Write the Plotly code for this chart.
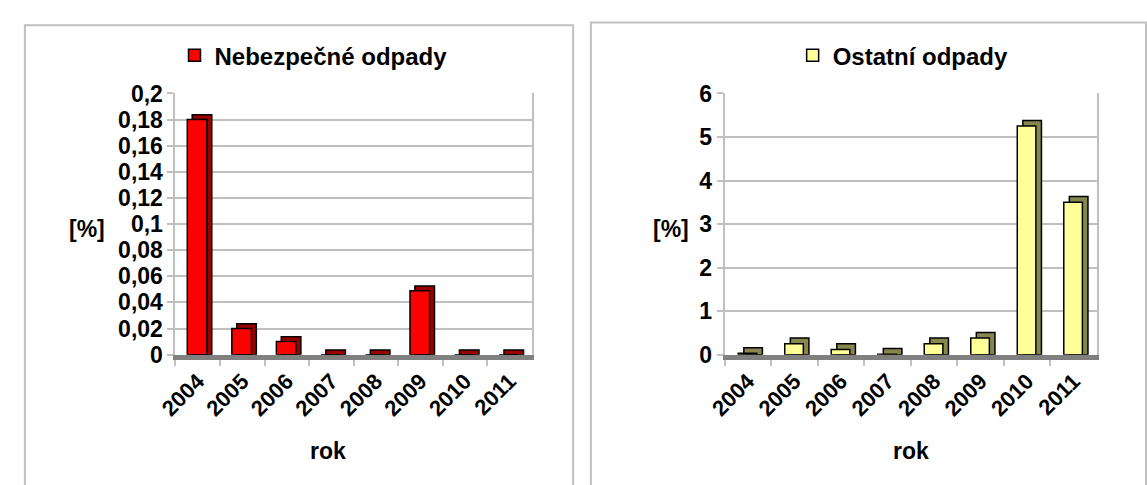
import plotly.graph_objects as go

# ---- data ----
years = ["2004", "2005", "2006", "2007", "2008", "2009", "2010", "2011"]
nebezpecne = [0.18, 0.02, 0.01, 0.0, 0.0, 0.049, 0.0, 0.0]
ostatni = [0.03, 0.25, 0.12, 0.01, 0.25, 0.38, 5.25, 3.5]
series_names = ["Nebezpečné odpady", "Ostatní odpady"]
y_title = "[%]"
x_title = "rok"

W, H = 1147, 485
FONT = "Liberation Sans, Arial, sans-serif"
GRID = "#c0c0c0"
FS = 23


def fx(p):
    return p / W


def fy(p):
    return (H - p) / H


PLOT_TOP, PLOT_BOTTOM = 85, 361

panels = [
    dict(values=nebezpecne, name=series_names[0], ymax=0.2, dtick=0.02,
         front="#FF0000", side="#990000", x0=160, x1=522, depth=5,
         offset=-0.235, width=0.44, shift=0.11,
         ax="", legend="legend", leg_x=159, ytitle_x=70, xtitle_x=315),
    dict(values=ostatni, name=series_names[1], ymax=6, dtick=1,
         front="#FFFF99", side="#86864F", x0=718, x1=1096, depth=6,
         offset=-0.21, width=0.40, shift=0.12,
         ax="2", legend="legend2", leg_x=787, ytitle_x=663, xtitle_x=907),
]

fig = go.Figure()
layout = dict(
    width=W, height=H,
    margin=dict(l=0, r=0, t=0, b=0),
    paper_bgcolor="white", plot_bgcolor="white",
    separators=",.",
    barmode="overlay",
    font=dict(family=FONT, size=FS, color="black", weight="bold"),
    shapes=[], annotations=[],
)

for p in panels:
    xa = "x" + p["ax"]
    ya = "y" + p["ax"]
    dunit = p["depth"] * p["ymax"] / (PLOT_BOTTOM - PLOT_TOP)
    # depth (side + top faces) drawn behind the front face
    fig.add_trace(go.Bar(
        x=years, y=[v + dunit for v in p["values"]], base=0,
        offset=p["offset"] + p["shift"], width=p["width"],
        marker=dict(color=p["side"], line=dict(color="black", width=1.5)),
        xaxis=xa, yaxis=ya, showlegend=False, hoverinfo="skip",
    ))
    fig.add_trace(go.Bar(
        x=years, y=p["values"], base=0,
        offset=p["offset"], width=p["width"], name=p["name"],
        marker=dict(color=p["front"], line=dict(color="black", width=1.5)),
        xaxis=xa, yaxis=ya, legend=p["legend"],
    ))
    xkey = "xaxis" + p["ax"]
    ykey = "yaxis" + p["ax"]
    layout[xkey] = dict(
        domain=[fx(p["x0"]), fx(p["x1"])], anchor=ya, type="category",
        showline=True, linecolor="#808080", linewidth=5,
        ticks="outside", tickson="boundaries", ticklen=6, tickcolor=GRID,
        tickwidth=2, tickangle=-45, showgrid=False, layer="below traces",
        tickfont=dict(family=FONT, size=FS - 1, weight="bold"), fixedrange=True,
    )
    layout[ykey] = dict(
        domain=[fy(PLOT_BOTTOM), fy(PLOT_TOP)], anchor=xa,
        range=[0, p["ymax"]], dtick=p["dtick"], tick0=0,
        showline=True, linecolor=GRID, linewidth=2, mirror=True,
        showgrid=True, gridcolor=GRID, gridwidth=2, zeroline=False,
        ticks="outside", ticklen=6, tickcolor=GRID, tickwidth=2,
        layer="below traces",
        tickfont=dict(family=FONT, size=FS, weight="bold"), fixedrange=True,
    )
    layout[p["legend"]] = dict(
        x=fx(p["leg_x"]), y=fy(45), xanchor="left", yanchor="middle",
        bgcolor="rgba(0,0,0,0)", itemwidth=30,
        font=dict(family=FONT, size=FS + 1, weight="bold"),
    )
    layout["annotations"].append(dict(
        text=y_title, x=fx(p["ytitle_x"]), y=fy(228), xref="paper",
        yref="paper", showarrow=False, xanchor="center", yanchor="middle",
        font=dict(family=FONT, size=FS, weight="bold")))
    layout["annotations"].append(dict(
        text=x_title, x=fx(p["xtitle_x"]), y=fy(463), xref="paper",
        yref="paper", showarrow=False, xanchor="center", yanchor="middle",
        font=dict(family=FONT, size=FS, weight="bold")))

# panel frames
layout["shapes"].append(dict(type="rect", xref="paper", yref="paper",
                             x0=fx(7), x1=fx(564), y0=-0.05, y1=fy(13),
                             line=dict(color=GRID, width=2), layer="below"))
layout["shapes"].append(dict(type="rect", xref="paper", yref="paper",
                             x0=fx(582), x1=fx(1146), y0=-0.05, y1=fy(10),
                             line=dict(color=GRID, width=2), layer="below"))

fig.update_layout(**layout)
fig.write_html(
    "out.html",
    config={"displayModeBar": False},
    post_script="document.body.style.margin='0';document.body.style.overflow='hidden';",
)
